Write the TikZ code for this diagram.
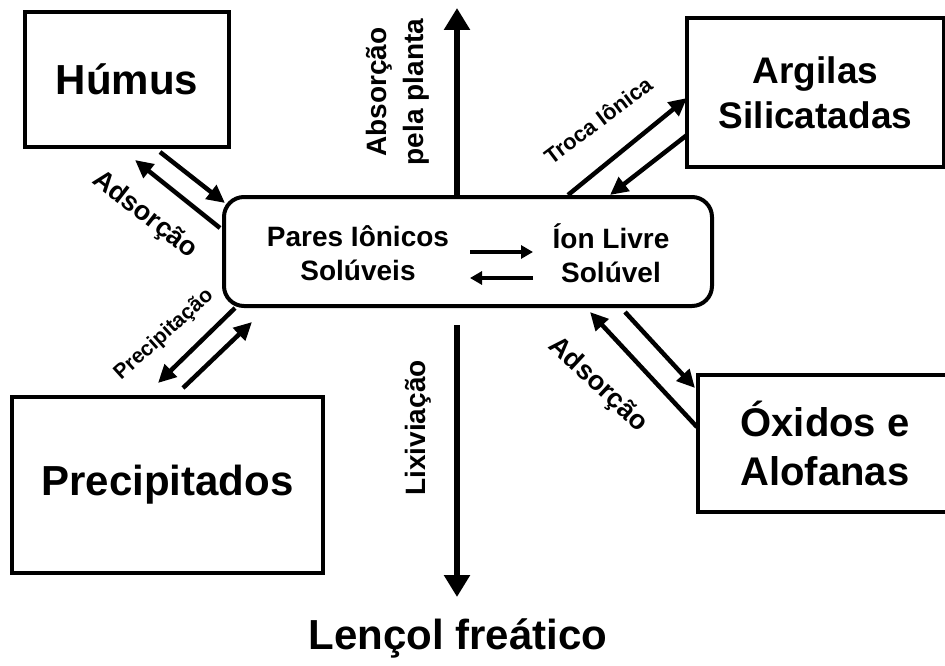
\documentclass[tikz,border=0pt]{standalone}
\usepackage{fontspec}
\setmainfont{Liberation Sans}
\usetikzlibrary{arrows.meta,positioning}

\tikzset{
    bx/.style={draw, line width=4pt, align=center, font=\fontsize{42}{48}\selectfont\bfseries},
    lbl/.style={font=\fontsize{#1}{#1}\selectfont\bfseries},
    txt/.style={align=center, font=\fontsize{28}{34}\selectfont\bfseries},
    dia/.style={line width=4.5pt, -{Triangle[length=18pt, width=17pt]}},
    vert/.style={line width=6pt, -{Triangle[length=22pt, width=25pt]}},
    eq/.style={line width=4pt, -{Triangle[length=12pt, width=13pt]}}
}

\begin{document}
\begin{tikzpicture}[x=1pt, y=-1pt]
        \useasboundingbox (0,0) rectangle (945,666);

        % compartimentos
        \node[bx, minimum width=204pt, minimum height=135pt] (hum) at (127,79.5) {Húmus};
        \node[bx, minimum width=311pt, minimum height=176pt] (pre) at (167.5,485) {Precipitados};
        \node[bx, font=\fontsize{37}{45}\selectfont\bfseries, minimum width=257pt, minimum height=149pt] (arg) at (815.5,92.5) {Argilas\\Silicatadas};
        \node[bx, font=\fontsize{40}{49}\selectfont\bfseries, minimum width=254pt, minimum height=137pt] (oxi) at (825,443.5) {Óxidos e\\Alofanas};

        % solucao do solo
        \node[draw, line width=4pt, rounded corners=20pt, minimum width=488pt, minimum height=109pt] (sol) at (468,251.5) {};
        \node[txt] (par) at (358,253) {Pares Iônicos\\Solúveis};
        \node[txt] (ion) at (611,253) {Íon Livre\\Solúvel};
        \coordinate (r1) at (470,252); \coordinate (r2) at (533,252);
        \coordinate (l1) at (533,278); \coordinate (l2) at (470,278);
        \draw[eq] (r1) -- (r2);
        \draw[eq] (l1) -- (l2);

        % entrada e saida
        \coordinate (up) at (457,8);
        \coordinate (dn1) at (457,325); \coordinate (dn2) at (457,597);
        \draw[vert] (sol.north -| up) -- (up);
        \draw[vert] (dn1) -- (dn2);
        \node[txt, font=\fontsize{28}{37}\selectfont\bfseries, rotate=90] (abs) at (398,92) {Absorção\\pela planta};
        \node[lbl=28, rotate=90] (lix) at (418,428) {Lixiviação};
        \node[lbl=42] (len) at (458,638) {Lençol freático};

        % trocas com os compartimentos
        \coordinate (a1) at (160,152); \coordinate (a2) at (225,203);
        \coordinate (b1) at (220,228); \coordinate (b2) at (135,160);
        \coordinate (c1) at (235,308); \coordinate (c2) at (158,383);
        \coordinate (d1) at (183,388); \coordinate (d2) at (252,322);
        \coordinate (e1) at (568,195); \coordinate (e2) at (687,98);
        \coordinate (f1) at (687,135); \coordinate (f2) at (610,195);
        \coordinate (g1) at (697,427); \coordinate (g2) at (590,312);
        \coordinate (h1) at (625,312); \coordinate (h2) at (695,388);
        \draw[dia] (a1) -- (a2);
        \draw[dia] (b1) -- (b2);
        \draw[dia] (c1) -- (c2);
        \draw[dia] (d1) -- (d2);
        \draw[dia] (e1) -- (e2);
        \draw[dia] (f1) -- (f2);
        \draw[dia] (g1) -- (g2);
        \draw[dia] (h1) -- (h2);

        \node[lbl=27, rotate=-38] (ads1) at (145,215) {Adsorção};
        \node[lbl=21, rotate=42] (prc) at (164,335) {Precipitação};
        \node[lbl=22, rotate=37] (tro) at (598,120) {Troca Iônica};
        \node[lbl=27, rotate=-43] (ads2) at (598,385) {Adsorção};
\end{tikzpicture}
\end{document}
